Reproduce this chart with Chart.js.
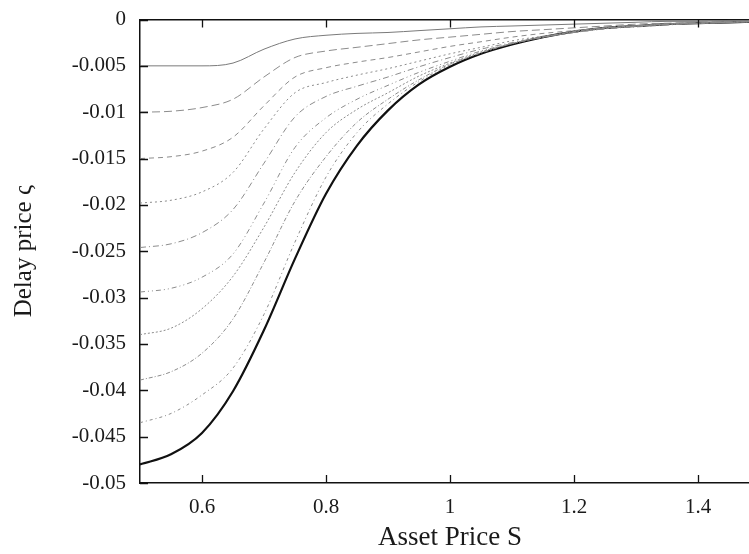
<!DOCTYPE html>
<html>
<head>
<meta charset="utf-8">
<script src="https://cdn.jsdelivr.net/npm/chart.js@4.4.1/dist/chart.umd.min.js"></script>
<style>
  html, body { margin: 0; padding: 0; background: #fff; overflow: hidden; }
  #wrap { width: 775px; height: 554px; }
</style>
</head>
<body>
<div id="wrap"><canvas id="chart"></canvas></div>
<script>
// Asset price S (x axis)
const assetPrice = [0.5, 0.55, 0.6, 0.65, 0.7, 0.75, 0.8, 0.85, 0.9, 0.95, 1.0,
                    1.05, 1.1, 1.15, 1.2, 1.25, 1.3, 1.35, 1.4, 1.45, 1.5];

// delay price curves, top to bottom
const delay1 = [-0.0050, -0.0050, -0.0050, -0.0047, -0.0032, -0.0021, -0.0017, -0.0015, -0.0014, -0.0012, -0.0010,
                -0.0008, -0.0007, -0.0006, -0.0005, -0.0004, -0.0003, -0.0002, -0.0002, -0.0001, -0.0001];
const delay2 = [-0.0100, -0.0099, -0.0095, -0.0086, -0.0062, -0.0041, -0.0034, -0.0030, -0.0026, -0.0022, -0.0019,
                -0.0016, -0.0013, -0.0011, -0.0009, -0.0007, -0.0005, -0.0004, -0.0003, -0.0002, -0.0001];
const delay3 = [-0.0150, -0.0148, -0.0142, -0.0127, -0.0093, -0.0062, -0.0052, -0.0046, -0.0041, -0.0035, -0.0029,
                -0.0024, -0.0019, -0.0015, -0.0012, -0.0009, -0.0007, -0.0005, -0.0004, -0.0003, -0.0002];
const delay4 = [-0.0198, -0.0195, -0.0186, -0.0165, -0.0118, -0.0079, -0.0068, -0.0060, -0.0053, -0.0045, -0.0037,
                -0.0030, -0.0023, -0.0018, -0.0014, -0.0010, -0.0007, -0.0005, -0.0004, -0.0003, -0.0002];
const delay5 = [-0.0246, -0.0242, -0.0230, -0.0205, -0.0155, -0.0105, -0.0083, -0.0072, -0.0062, -0.0051, -0.0041,
                -0.0032, -0.0025, -0.0019, -0.0014, -0.0010, -0.0008, -0.0006, -0.0004, -0.0003, -0.0002];
const delay6 = [-0.0294, -0.0290, -0.0278, -0.0253, -0.0198, -0.0138, -0.0106, -0.0086, -0.0071, -0.0057, -0.0045,
                -0.0034, -0.0026, -0.0019, -0.0014, -0.0010, -0.0007, -0.0005, -0.0004, -0.0003, -0.0002];
const delay7 = [-0.0340, -0.0333, -0.0312, -0.0277, -0.0224, -0.0165, -0.0122, -0.0097, -0.0079, -0.0061, -0.0047,
                -0.0035, -0.0026, -0.0019, -0.0013, -0.0009, -0.0007, -0.0005, -0.0004, -0.0003, -0.0002];
const delay8 = [-0.0389, -0.0380, -0.0360, -0.0323, -0.0262, -0.0196, -0.0148, -0.0111, -0.0086, -0.0065, -0.0048,
                -0.0036, -0.0026, -0.0019, -0.0013, -0.0009, -0.0007, -0.0005, -0.0004, -0.0003, -0.0002];
const delay9 = [-0.0435, -0.0425, -0.0405, -0.0376, -0.0318, -0.0240, -0.0170, -0.0122, -0.0091, -0.0067, -0.0049,
                -0.0036, -0.0026, -0.0019, -0.0013, -0.0009, -0.0007, -0.0005, -0.0004, -0.0003, -0.0002];
// bold limit curve
const delayLimit = [-0.0480, -0.0469, -0.0446, -0.0401, -0.0335, -0.0258, -0.0188, -0.0136, -0.0098, -0.0070, -0.0051,
                    -0.0037, -0.0027, -0.0019, -0.0013, -0.0009, -0.0007, -0.0005, -0.0004, -0.0003, -0.0002];

const xTicks = [0.6, 0.8, 1.0, 1.2, 1.4];
const yTicks = [0, -0.005, -0.01, -0.015, -0.02, -0.025, -0.03, -0.035, -0.04, -0.045, -0.05];

const thinCurves = [delay1, delay2, delay3, delay4, delay5, delay6, delay7, delay8, delay9];
const dashes = [[], [8, 4], [5, 4], [2, 3], [6, 3, 1, 3], [5, 3, 1, 3, 1, 3], [2, 2], [4, 2, 1, 2], [3, 3, 1, 3]];

const serif = "'Liberation Serif', 'DejaVu Serif', serif";

function toPoints(ys) {
    return assetPrice.map((x, i) => ({ x: x, y: ys[i] }));
}

const datasets = thinCurves.map((ys, i) => ({
    data: toPoints(ys),
    borderColor: i === 0 ? '#7a7a7a' : '#8c8c8c',
    borderWidth: 1,
    borderDash: dashes[i],
    pointRadius: 0,
    cubicInterpolationMode: 'monotone'
}));
datasets.push({
    data: toPoints(delayLimit),
    borderColor: '#111',
    borderWidth: 2.2,
    pointRadius: 0,
    cubicInterpolationMode: 'monotone'
});

// petits traits de graduation tournés vers l'intérieur (style gnuplot)
const innerTicks = {
    id: 'innerTicks',
    afterDraw(chart) {
        const { ctx, chartArea, scales } = chart;
        const { left, right, top, bottom } = chartArea;
        ctx.save();
        ctx.strokeStyle = '#111';
        ctx.lineWidth = 1.3;
        ctx.beginPath();
        scales.x.ticks.forEach(t => {
            const px = Math.round(scales.x.getPixelForValue(t.value)) + 0.5;
            ctx.moveTo(px, bottom); ctx.lineTo(px, bottom - 8);
            ctx.moveTo(px, top); ctx.lineTo(px, top + 8);
        });
        scales.y.ticks.forEach(t => {
            const py = Math.round(scales.y.getPixelForValue(t.value)) + 0.5;
            ctx.moveTo(left, py); ctx.lineTo(left + 8, py);
            ctx.moveTo(right, py); ctx.lineTo(right - 8, py);
        });
        ctx.stroke();
        ctx.restore();
    }
};

new Chart(document.getElementById('chart'), {
    type: 'line',
    data: { datasets: datasets },
    plugins: [innerTicks],
    options: {
        responsive: true,
        maintainAspectRatio: false,
        animation: false,
        layout: { padding: { left: 0, right: 15, top: 0, bottom: 0 } },
        plugins: { legend: { display: false }, tooltip: { enabled: false } },
        scales: {
            x: {
                type: 'linear',
                position: 'bottom',
                min: 0.5,
                max: 1.5,
                afterBuildTicks: s => { s.ticks = xTicks.map(v => ({ value: v })); },
                afterFit: s => { s.height = 71; },
                grid: { display: false },
                border: { display: true, color: '#111', width: 1.5 },
                ticks: {
                    padding: 4,
                    maxRotation: 0,
                    color: '#1a1a1a',
                    font: { family: serif, size: 21 },
                    callback: v => String(Math.round(v * 10) / 10)
                },
                title: {
                    display: true,
                    text: 'Asset Price S',
                    color: '#1a1a1a',
                    font: { family: serif, size: 27 },
                    padding: { top: 0, bottom: 0 }
                }
            },
            xTop: {
                type: 'linear',
                position: 'top',
                min: 0.5,
                max: 1.5,
                afterBuildTicks: s => { s.ticks = xTicks.map(v => ({ value: v })); },
                afterFit: s => { s.height = 19.5; },
                grid: { display: false },
                border: { display: true, color: '#111', width: 1.5 },
                ticks: { display: false }
            },
            y: {
                type: 'linear',
                min: -0.05,
                max: 0,
                afterBuildTicks: s => { s.ticks = yTicks.map(v => ({ value: v })); },
                afterFit: s => { s.width = 140; },
                grid: { display: false },
                border: { display: true, color: '#111', width: 1.5 },
                ticks: {
                    padding: 6,
                    color: '#1a1a1a',
                    font: { family: serif, size: 21 },
                    callback: v => v === 0 ? '0' : '-' + String(Math.round(Math.abs(v) * 1000) / 1000)
                },
                title: {
                    display: true,
                    text: 'Delay price \u03c2',
                    color: '#1a1a1a',
                    font: { family: serif, size: 25 },
                    padding: { top: 9, bottom: 0 }
                }
            }
        }
    }
});
</script>
</body>
</html>
